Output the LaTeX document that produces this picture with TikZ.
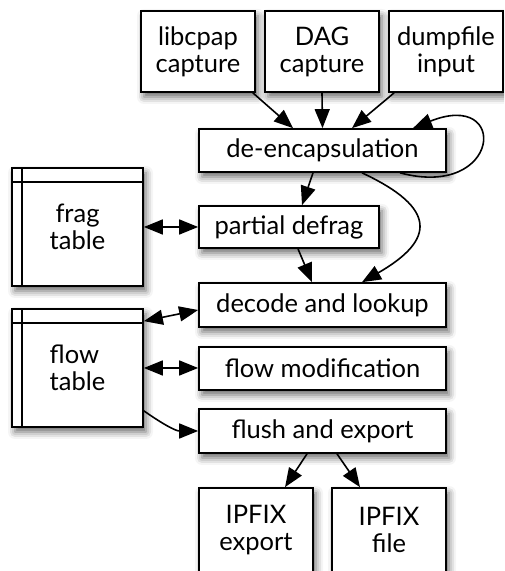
\documentclass[tikz,border=0pt]{standalone}
\usepackage{fontspec}
\setmainfont{Lato}
\usetikzlibrary{arrows.meta,shadows.blur}
\begin{document}
\begin{tikzpicture}[x=1pt,y=1pt,
  box/.style={draw=black, line width=1.7pt, fill=white, inner sep=0pt, align=center,
    font=\fontsize{25.5}{27}\selectfont,
    blur shadow={shadow xshift=3pt, shadow yshift=-5pt, shadow blur radius=7pt, shadow opacity=60}},
  src/.style={box, minimum width=114pt, minimum height=81pt},
  stage/.style={box, minimum width=247pt, minimum height=43pt},
  tbl/.style={box, minimum width=131pt, minimum height=118pt},
  rule/.style={line width=1.8pt},
  arr/.style={line width=1.6pt, -{Triangle[length=19pt,width=15pt]}},
  biarr/.style={line width=1.6pt, {Triangle[length=19pt,width=15pt]}-{Triangle[length=19pt,width=15pt]}},
]
\useasboundingbox (0,0) rectangle (504,571);
\clip (0,0) rectangle (504,571);

% packet sources
\node[src] (lib)  at (198,519.5) {libcpap\\capture};
\node[src] (dag)  at (322,519.5) {DAG\\capture};
\node[src] (dump) at (446,519.5) {dumpfile\\input};

% processing stages
\node[stage] (de) at (322.5,420.5) {de-encapsulation};
\node[box, minimum width=180pt, minimum height=42pt] (pd) at (289,344) {partial defrag};
\node[stage, minimum height=44pt] (dl) at (322.5,266) {decode and lookup};
\node[stage] (fm) at (322.5,202.5) {flow modification};
\node[stage, minimum height=44pt] (fe) at (322.5,140) {flush and export};

% exporters
\node[src, minimum height=84pt] (ie) at (256,41) {IPFIX\\export};
\node[src, minimum height=84pt] (if) at (389,41) {IPFIX\\file};

% state tables
\node[tbl] (frag) at (77.5,344) {frag\\table};
\node[tbl, align=left] (flow) at (77.5,203) {flow\\table};
\foreach \t in {frag,flow}{
  \draw[rule] ([yshift=-15pt]\t.north west) -- ([yshift=-15pt]\t.north east);
  \draw[line width=1.5pt] ([xshift=11pt]\t.north west) -- ([xshift=11pt]\t.south west);
}

% connectors
\draw[arr] ([xshift=-3pt]lib.south east) -- ([xshift=-29.5pt]de.north);
\draw[arr] (dag.south) -- (de.north);
\draw[arr] ([xshift=6pt]dump.south west) -- ([xshift=29.5pt]de.north);
\draw[arr] ([xshift=77.5pt]de.south) .. controls +(101,-27) and +(97,39) .. ([xshift=90.5pt]de.north);
\draw[arr] ([xshift=-9.5pt]de.south) -- ([xshift=13pt]pd.north);
\draw[arr] ([xshift=39.5pt]de.south) .. controls +(76,-35.5) and +(73,42) .. ([xshift=39.5pt]dl.north);
\draw[arr] ([xshift=9pt]pd.south) -- ([xshift=-10.5pt]dl.north);
\draw[biarr] (frag.east) -- (pd.west);
\draw[biarr] ([yshift=-13pt]flow.north east) -- ([yshift=-5pt]dl.west);
\draw[biarr] (flow.east) -- (flow.east -| fm.west);
\draw[arr] ([yshift=17pt]flow.south east) to[out=-35,in=180] (fe.west);
\draw[arr] ([xshift=-15.5pt]fe.south) -- ([xshift=29pt]ie.north);
\draw[arr] ([xshift=14.5pt]fe.south) -- ([xshift=-29pt]if.north);
\end{tikzpicture}
\end{document}
